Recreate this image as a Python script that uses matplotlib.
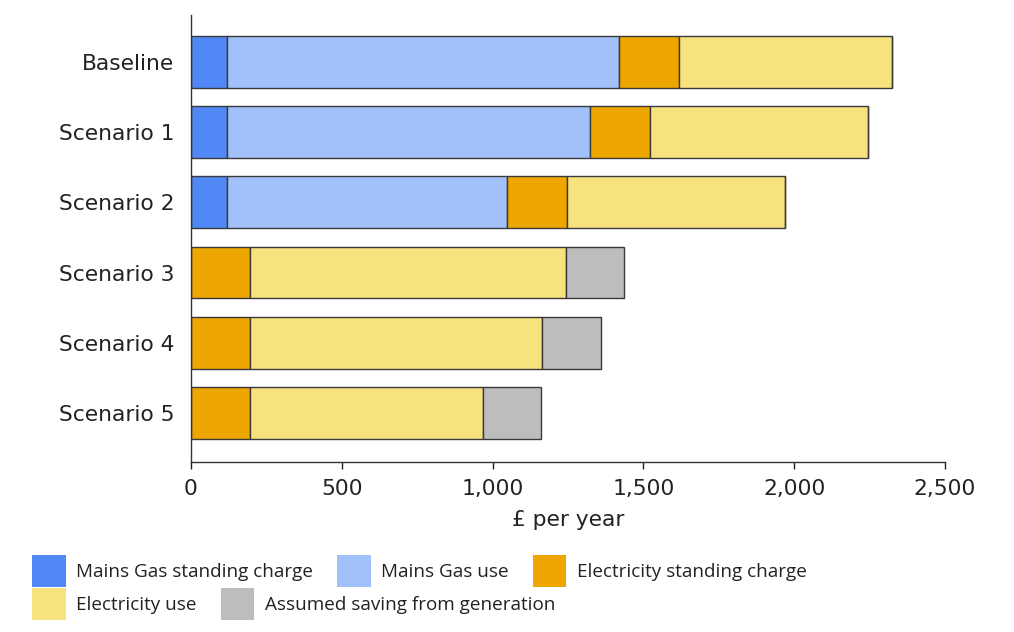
import matplotlib
matplotlib.use("Agg")
import matplotlib.pyplot as plt
from matplotlib.ticker import FuncFormatter
import numpy as np

# Annual household energy cost by scenario (£ per year)
scenarios = ["Baseline", "Scenario 1", "Scenario 2", "Scenario 3", "Scenario 4", "Scenario 5"]
gas_standing = [120, 120, 120, 0, 0, 0]
gas_use = [1300, 1204, 929, 0, 0, 0]
elec_standing = [197, 197, 197, 197, 197, 197]
elec_use = [708, 725, 724, 1045, 968, 771]
generation_saving = [0, 0, 0, 193, 195, 193]

series_labels = ["Mains Gas standing charge", "Mains Gas use", "Electricity standing charge",
                 "Electricity use", "Assumed saving from generation"]
series_colors = ["#5089f6", "#a2c0fa", "#eea600", "#f7e27e", "#bdbdbd"]
x_ticks = [0, 500, 1000, 1500, 2000, 2500]

plt.rcParams["font.family"] = "DejaVu Sans"

fig = plt.figure(figsize=(10.14, 6.32), dpi=100, facecolor="white")
ax = fig.add_axes([0.1884, 0.269, 0.7436, 0.7073])

y = np.arange(len(scenarios))
left = np.zeros(len(scenarios))
handles = []
for vals, lab, col in zip([gas_standing, gas_use, elec_standing, elec_use, generation_saving],
                          series_labels, series_colors):
    vals = np.array(vals, dtype=float)
    bars = ax.barh(y, vals, left=left, height=0.74, color=col, edgecolor="#3a3a3a",
                   linewidth=1.0, label=lab)
    handles.append(bars)
    left = left + vals

ax.set_xlim(0, 2500)
ax.set_ylim(5.7, -0.67)
ax.set_yticks(y)
ax.set_yticklabels(scenarios)
ax.set_xticks(x_ticks)
ax.xaxis.set_major_formatter(FuncFormatter(lambda v, p: f"{int(v):,}"))
ax.tick_params(axis="y", length=0, pad=12, labelsize=15.7, colors="#222222")
ax.tick_params(axis="x", length=5, width=1, pad=7, labelsize=15.7, colors="#222222")
ax.set_xlabel("£ per year", fontsize=15.7, color="#222222", labelpad=8)
for side in ["top", "right"]:
    ax.spines[side].set_visible(False)
for side in ["left", "bottom"]:
    ax.spines[side].set_color("#333333")
    ax.spines[side].set_linewidth(1.0)

legend_kw = dict(frameon=False, loc="upper left", borderpad=0, borderaxespad=0,
                 handlelength=1.75, handleheight=2.2, handletextpad=0.58,
                 columnspacing=1.27, labelspacing=0,
                 prop={"family": "Open Sans", "size": 13.6})
leg1 = fig.legend(handles[:3], series_labels[:3], ncol=3,
                  bbox_to_anchor=(0.032, 0.122), **legend_kw)
leg2 = fig.legend(handles[3:], series_labels[3:], ncol=2,
                  bbox_to_anchor=(0.032, 0.0696), **legend_kw)
for leg in (leg1, leg2):
    for patch in leg.get_patches():
        patch.set_edgecolor("none")
    for t in leg.get_texts():
        t.set_color("#222222")

fig.savefig("out.png", dpi=100, facecolor="white")
